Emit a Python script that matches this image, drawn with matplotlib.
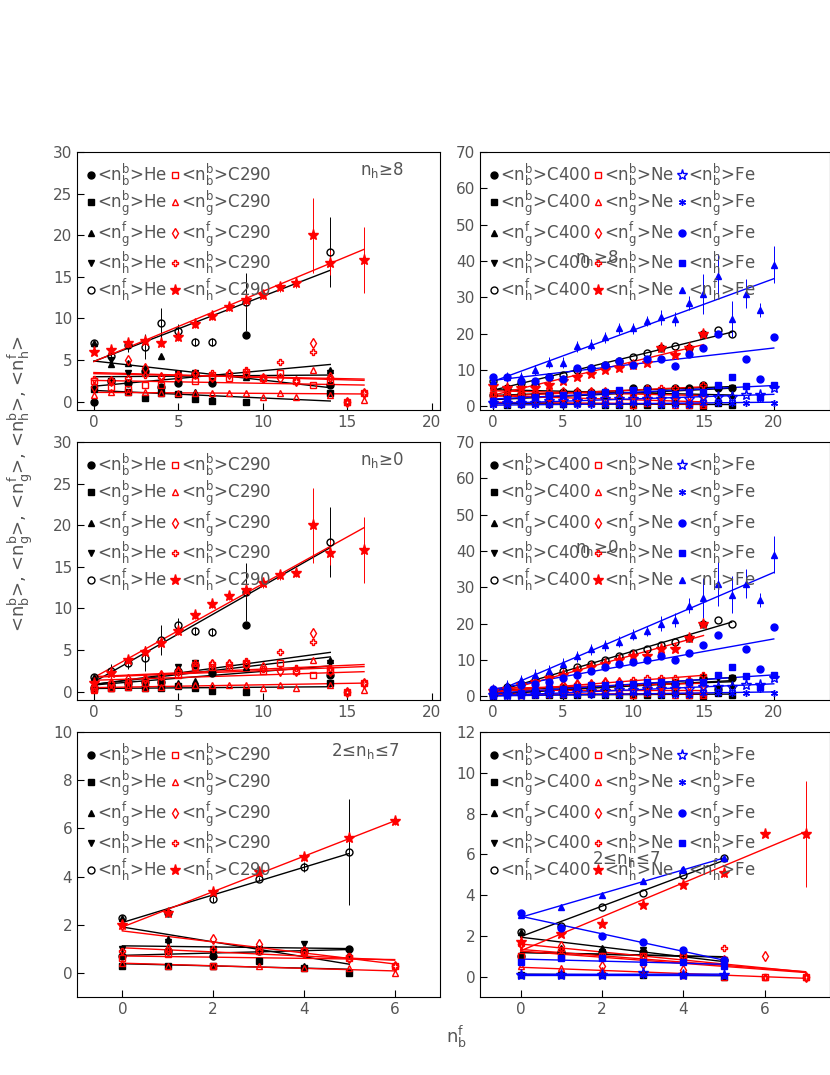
import numpy as np
import matplotlib.pyplot as plt

# ---- data: panels top (nh>=8), middle (nh>=0), bottom (2<=nh<=7) ----
x_he = [0, 1, 2, 3, 4, 5, 6, 7, 9, 14]
x_c290 = [0, 1, 2, 3, 4, 5, 6, 7, 8, 9, 10, 11, 12, 13, 14, 15, 16]

t_he_nbb = [0, 2.5, 2.2, 3.7, 1.8, 2.3, 3.3, 2.3, 8.0, 2.0]
t_he_ngb = [1.5, 2.5, 1.2, 0.4, 1.0, 0.9, 0.3, 0.1, 0, 1.0]
t_he_ngf = [7, 4.5, 4.7, 4.0, 5.5, 3.0, 1.2, 0.5, 3.0, 3.8]
t_he_nhb = [1.5, 5, 3.5, 3.7, 1.2, 3.3, 3.5, 2.5, 3.0, 3.5]
t_he_nhf = [7, 5.5, 6.8, 6.6, 9.5, 8.5, 7.2, 7.2, 12, 18]
t_he_err = [0.3, 0.8, 0.8, 1.5, 1.8, 0.8, 0.5, 0.5, 3.5, 4.2]
t_c_nbb = [2.5, 1.8, 1.5, 2, 2, 3, 2.5, 3, 2.8, 3.3, 2.8, 3.5, 2.5, 2, 2.5, 0, 1]
t_c_ngb = [0.8, 1.2, 1.2, 1.2, 1, 1.0, 1, 1, 1, 1, 0.6, 1, 0.6, 3.8, 0.8, 0, 0.2]
t_c_ngf = [1.8, 2.5, 5, 4, 3, 3, 3.3, 3, 3.3, 3.5, 2.8, 2.8, 2.5, 7, 3, 0, 1]
t_c_nhb = [2.7, 2.6, 2.8, 3.2, 3, 3.3, 3.5, 3.5, 3.5, 3.8, 2.7, 4.8, 2.5, 6, 2.8, 0, 1]
t_c_nhf = [6, 6.2, 7, 7.3, 7.1, 7.8, 9.3, 10.3, 11.4, 12.2, 12.8, 13.8, 14.2, 20, 16.7, np.nan, 17]
t_c_err = [0.3, 0.5, 0.5, 0.5, 0.5, 0.5, 0.5, 0.5, 0.5, 0.8, 0.5, 0.6, 0.5, 4.5, 1.5, 0, 4]

m_he_nbb = [0.5, 0.8, 1.0, 1.2, 1.2, 2.5, 3.2, 2.3, 8.0, 2.0]
m_he_ngb = [0.3, 0.5, 0.6, 0.5, 0.5, 0.7, 0.4, 0.1, 0, 1.0]
m_he_ngf = [1.8, 1.2, 1.3, 1.0, 1.5, 1.0, 1.3, 0.5, 3.0, 3.8]
m_he_nhb = [0.5, 0.8, 1.0, 1.2, 1.8, 3.0, 3.5, 2.5, 3.0, 3.5]
m_he_nhf = [1.8, 2.5, 3.5, 4.0, 6.2, 8.0, 7.3, 7.2, 12, 18]
m_c_nbb = [0.3, 0.5, 0.8, 1, 1.2, 2, 3, 3, 3, 3.3, 2.5, 3.5, 2.5, 2, 2.5, 0, 1]
m_c_ngb = [0.2, 0.4, 0.6, 0.5, 0.6, 0.8, 0.8, 0.8, 0.8, 0.8, 0.5, 0.8, 0.5, 3.8, 0.8, 0, 0.2]
m_c_ngf = [0.5, 1, 1.5, 1.5, 2, 2.5, 3, 3.3, 3.3, 3.3, 3, 2.5, 2.5, 7, 2.5, 0, 1]
m_c_nhb = [0.6, 1, 1.2, 1.5, 2, 2.5, 3.5, 3.5, 3.5, 3.7, 2.7, 4.8, 2.8, 6, 2.8, 0, 1]
m_c_nhf = [1, 2.2, 3.8, 4.8, 5.9, 7.3, 9.2, 10.5, 11.5, 12.2, 13, 14, 14.3, 20, 16.7, np.nan, 17]

x_he_b = [0, 1, 2, 3, 4, 5]
x_c290_b = [0, 1, 2, 3, 4, 5, 6]
b_he_nbb = [0.7, 0.9, 0.7, 0.9, 0.9, 1.0]
b_he_ngb = [0.3, 0.3, 0.3, 0.5, 0.2, 0]
b_he_ngf = [2.3, 1.4, 1.0, 1.0, 0.3, 0.8]
b_he_nhb = [1.0, 1.3, 1.0, 1.0, 1.2, 0.9]
b_he_nhf = [2.3, 2.5, 3.05, 3.9, 4.4, 5.0]
b_he_err = [0.05, 0.1, 0.1, 0.1, 0.2, 2.2]
b_c_nbb = [0.6, 0.8, 0.3, 0.9, 0.9, 0.6, 0.3]
b_c_ngb = [0.4, 0.3, 0.3, 0.3, 0.2, 0.2, 0]
b_c_ngf = [2, 1.0, 1.4, 1.2, 0.9, 0.6, 0.3]
b_c_nhb = [0.9, 0.9, 1.0, 0.9, 0.8, 0.7, 0.3]
b_c_nhf = [2, 2.5, 3.35, 4.2, 4.8, 5.6, 6.3]
b_c_err = [0.1, 0.1, 0.1, 0.1, 0.15, 0.15, 0.15]

# right column: C400, Ne, Fe
x_c400 = list(range(18))
x_ne = list(range(16))
x_fe = list(range(21))
tr_c4_nbb = [3, 3, 3.5, 3, 3.5, 4, 4, 4, 4, 4, 5, 5, 4, 5, 5, 6, 5, 5]
tr_c4_ngb = [1, 0.5, 0.7, 0.8, 0.6, 0.6, 0.8, 1, 0.5, 0.3, 0.5, 0.5, 0.5, 1, 0.5, 0, 1, 0.5]
tr_c4_ngf = [6, 4, 5, 4.5, 4, 4, 3.5, 4, 3, 3, 3.5, 3, 3, 4, 4, 6, 2, 3]
tr_c4_nhb = [2, 2, 2, 2.5, 2.5, 3, 3, 3, 3, 3.5, 4, 4, 4, 4, 4, 5, 5, 5]
tr_c4_nhf = [7, 5, 6.5, 6, 8, 8.5, 10, 10.5, 11.5, 12.5, 13.5, 14.8, 16, 16.7, 16, 20, 21, 20]
tr_ne_nbb = [3, 2.5, 2.5, 2.5, 2.5, 2.5, 2.5, 2.5, 2, 2, 2, 2, 1.5, 1.5, 1, 1]
tr_ne_ngb = [1, 1, 1, 1, 1, 1, 1, 1, 1, 1, 0.5, 1, 1, 0.5, 0.5, 0.5]
tr_ne_ngf = [4, 4, 4, 4, 4, 4, 4, 4, 4, 4, 3, 3, 3, 3, 3, 3]
tr_ne_nhb = [3, 3, 3, 3, 3.5, 3.5, 4, 4, 4, 4, 4.5, 5, 5, 5, 4.5, 6]
tr_ne_nhf = [5.5, 5, 5, 5, 6, 7, 8, 9, 10, 10.5, 11.5, 12, 16, 14, 16, 20]
tr_fe_nbb = [1, 1, 1, 1, 1.5, 1.5, 1.5, 2, 2, 2, 2, 2, 2, 2, 2, 2.5, 2.5, 2.5, 3, 3, 5]
tr_fe_ngb = [0.5, 0.5, 0.5, 0.5, 0.5, 0.5, 0.5, 0.5, 0.5, 0.5, 1, 1, 0.5, 0.5, 0.5, 1, 1, 1, 1, 2, 1]
tr_fe_ngf = [8, 8, 7, 7, 8, 7.5, 10.5, 10.5, 11.5, 12.5, 11.5, 13, 13, 11, 14.5, 16, 20, np.nan, 13, 7.5, 19]
tr_fe_nhb = [1.5, 2, 2, 2.5, 3, 3, 3, 3.5, 4, 4.5, 4.5, 4.5, 4, 3.5, 4, 4, 6, 8, 5.5, 2.5, 6]
tr_fe_nhf = [7, 8, 8, 10, 12, 12, 16.5, 17, 19, 21.5, 21.5, 23.5, 24.5, 24, 28.5, 31, 36, 24, 31, 26.5, 39]
tr_fe_err = [1.5, 1.5, 1.5, 1.5, 1.5, 1.5, 1.5, 1.5, 1.5, 1.5, 1.5, 1.5, 2, 2, 2, 5.5, 6, 5, 4, 2, 5]

mr_c4_nbb = [0.5, 1, 1, 1.5, 1.5, 2, 2, 2.5, 2.5, 3, 3, 3, 3, 3.5, 4, 5, 2, 5]
mr_c4_ngb = [0.2, 0.3, 0.3, 0.4, 0.4, 0.5, 0.5, 0.6, 0.5, 0.3, 0.5, 0.5, 0.5, 1, 0.5, 0, 1, 0.5]
mr_c4_ngf = [1.5, 1.5, 2, 2, 2, 2.5, 2.5, 3, 3, 3, 3.5, 3, 3, 4, 4, 6, 2, 3]
mr_c4_nhb = [0.5, 0.8, 1, 1.2, 1.5, 2, 2, 2.5, 2.5, 3, 3.5, 3.5, 4, 4, 4, 5, 5, 5]
mr_c4_nhf = [1.5, 2.5, 3.5, 4.5, 5.5, 7, 8, 9, 10, 11, 12, 13, 14, 15, 16, 20, 21, 20]
mr_ne_nbb = [1, 1.2, 1.5, 1.5, 2, 2, 2, 2, 2, 2, 2, 2, 1.5, 1.5, 1, 1]
mr_ne_ngb = [0.3, 0.4, 0.5, 0.6, 0.6, 0.7, 0.8, 0.8, 1, 1, 0.5, 1, 1, 0.5, 0.5, 0.5]
mr_ne_ngf = [1, 1.5, 2, 2.5, 3, 3, 3.5, 3.5, 4, 4, 3, 3, 3, 3, 3, 3]
mr_ne_nhb = [1, 1.3, 1.8, 2.2, 2.5, 3, 3.5, 3.5, 4, 4, 4.5, 5, 5, 5, 4.5, 6]
mr_ne_nhf = [1.5, 2, 3, 4, 5, 6, 7, 8, 9, 10, 11, 11, 13, 13, 16, 20]
mr_fe_nbb = [0.3, 0.4, 0.5, 0.6, 0.8, 1, 1.2, 1.4, 1.5, 1.7, 1.8, 2, 2, 2, 2, 2.5, 2.5, 2.5, 3, 3, 5]
mr_fe_ngb = [0.2, 0.2, 0.3, 0.3, 0.3, 0.4, 0.4, 0.5, 0.5, 0.5, 1, 1, 0.5, 0.5, 0.5, 1, 1, 1, 1, 2, 1]
mr_fe_ngf = [2, 2, 3, 3.5, 4, 5, 6, 7, 8, 9, 9.5, 10, 11, 10, 12, 14, 17, np.nan, 13, 7.5, 19]
mr_fe_nhb = [0.5, 0.8, 1, 1.5, 2, 2, 2.5, 3, 3, 3.5, 3.5, 4, 4, 3.5, 4, 4, 6, 8, 5.5, 2.5, 6]
mr_fe_nhf = [2, 3, 4.5, 6, 7, 9, 11, 13, 14, 15, 17, 18, 20, 21, 25, 27, 31, 28, 31, 26.5, 39]

x_c400_b = [0, 1, 2, 3, 4, 5]
x_ne_b = [0, 1, 2, 3, 4, 5, 6, 7]
x_fe_b = [0, 1, 2, 3, 4, 5]
br_c4_nbb = [1, 1.2, 1.2, 1.2, 1.0, 0.8]
br_c4_ngb = [0.1, 0.1, 0.1, 0.1, 0.1, 0]
br_c4_ngf = [2.2, 1.4, 1.4, 1.2, 1.0, 0.8]
br_c4_nhb = [1, 1.2, 1.2, 1.3, 1.0, 0.8]
br_c4_nhf = [2.2, 2.5, 3.4, 4.1, 5.0, 5.8]
br_ne_nbb = [1.0, 1.0, 1.0, 1.0, 1.0, 0.8, 0, 0]
br_ne_ngb = [0.5, 0.4, 0.3, 0.2, 0.1, 0, 0, 0]
br_ne_ngf = [1.6, 1.5, 0.5, 0.6, 0.3, 0.8, 1.0, 0]
br_ne_nhb = [1.6, 1.3, 1.0, 1.0, 1.0, 1.4, 0, 0]
br_ne_nhf = [1.7, 2.1, 2.6, 3.5, 4.5, 5.1, 7, 7]
br_ne_err = [0.1, 0.1, 0.1, 0.1, 0.1, 0.2, 0.1, 2.6]
br_fe_nbb = [0.1, 0.1, 0.1, 0.2, 0.1, 0.1]
br_fe_ngb = [0.1, 0.1, 0.1, 0.1, 0.1, 0.1]
br_fe_ngf = [3.1, 2.4, 2.0, 1.7, 1.3, 0.8]
br_fe_nhb = [0.7, 0.9, 0.9, 0.7, 0.7, 0.5]
br_fe_nhf = [3.0, 3.4, 4.0, 4.7, 5.3, 5.8]

qty = ['<n$_{\\rm b}^{\\rm b}$>', '<n$_{\\rm g}^{\\rm b}$>', '<n$_{\\rm g}^{\\rm f}$>',
       '<n$_{\\rm h}^{\\rm b}$>', '<n$_{\\rm h}^{\\rm f}$>']
GRAY = '#555555'

# marker styles per group: (marker, filled)
sty_black = [('o', True), ('s', True), ('^', True), ('v', True), ('o', False)]
sty_red = [('s', False), ('^', False), ('d', False), ('P', False), ('*', True)]
sty_blue = [('*', False), ((6, 2, 0), True), ('o', True), ('s', True), ('^', True)]


def draw_group(ax, x, series, color, styles, name, errs=None):
    x = np.array(x, float)
    for i, (y, (mk, filled)) in enumerate(zip(series, styles)):
        y = np.array(y, float)
        ok = ~np.isnan(y)
        if errs is not None and i == 4:
            ax.errorbar(x[ok], y[ok], yerr=np.array(errs, float)[ok], fmt='none',
                        ecolor=color, elinewidth=0.7, zorder=2)
        ms = 8 if mk == '*' else 5
        ax.plot(x[ok], y[ok], linestyle='none', marker=mk, ms=ms, mew=1,
                mec=color, mfc=color if filled else 'none', zorder=3,
                label=qty[i] + name)
        p = np.polyfit(x[ok], y[ok], 1)
        xs = np.array([x[ok].min(), x[ok].max()])
        ax.plot(xs, np.polyval(p, xs), color=color, lw=1, zorder=2)


plt.rcParams['mathtext.fontset'] = 'dejavusans'
fig = plt.figure(figsize=(8.3, 10.75), dpi=100)
W, H = 830, 1075
def mkax(l, t, r, b):
    return fig.add_axes([l / W, 1 - b / H, (r - l) / W, (b - t) / H])

axes = [mkax(77, 152, 440, 410), mkax(480, 152, 830, 410),
        mkax(77, 442, 440, 700), mkax(480, 442, 830, 700),
        mkax(77, 732, 440, 997), mkax(480, 732, 830, 997)]

draw_group(axes[0], x_he, [t_he_nbb, t_he_ngb, t_he_ngf, t_he_nhb, t_he_nhf], 'black', sty_black, 'He', t_he_err)
draw_group(axes[0], x_c290, [t_c_nbb, t_c_ngb, t_c_ngf, t_c_nhb, t_c_nhf], 'red', sty_red, 'C290', t_c_err)
draw_group(axes[2], x_he, [m_he_nbb, m_he_ngb, m_he_ngf, m_he_nhb, m_he_nhf], 'black', sty_black, 'He', t_he_err)
draw_group(axes[2], x_c290, [m_c_nbb, m_c_ngb, m_c_ngf, m_c_nhb, m_c_nhf], 'red', sty_red, 'C290', t_c_err)
draw_group(axes[4], x_he_b, [b_he_nbb, b_he_ngb, b_he_ngf, b_he_nhb, b_he_nhf], 'black', sty_black, 'He', b_he_err)
draw_group(axes[4], x_c290_b, [b_c_nbb, b_c_ngb, b_c_ngf, b_c_nhb, b_c_nhf], 'red', sty_red, 'C290', b_c_err)

draw_group(axes[1], x_c400, [tr_c4_nbb, tr_c4_ngb, tr_c4_ngf, tr_c4_nhb, tr_c4_nhf], 'black', sty_black, 'C400')
draw_group(axes[1], x_ne, [tr_ne_nbb, tr_ne_ngb, tr_ne_ngf, tr_ne_nhb, tr_ne_nhf], 'red', sty_red, 'Ne')
draw_group(axes[1], x_fe, [tr_fe_nbb, tr_fe_ngb, tr_fe_ngf, tr_fe_nhb, tr_fe_nhf], 'blue', sty_blue, 'Fe', tr_fe_err)
draw_group(axes[3], x_c400, [mr_c4_nbb, mr_c4_ngb, mr_c4_ngf, mr_c4_nhb, mr_c4_nhf], 'black', sty_black, 'C400')
draw_group(axes[3], x_ne, [mr_ne_nbb, mr_ne_ngb, mr_ne_ngf, mr_ne_nhb, mr_ne_nhf], 'red', sty_red, 'Ne')
draw_group(axes[3], x_fe, [mr_fe_nbb, mr_fe_ngb, mr_fe_ngf, mr_fe_nhb, mr_fe_nhf], 'blue', sty_blue, 'Fe', tr_fe_err)
draw_group(axes[5], x_c400_b, [br_c4_nbb, br_c4_ngb, br_c4_ngf, br_c4_nhb, br_c4_nhf], 'black', sty_black, 'C400')
draw_group(axes[5], x_ne_b, [br_ne_nbb, br_ne_ngb, br_ne_ngf, br_ne_nhb, br_ne_nhf], 'red', sty_red, 'Ne', br_ne_err)
draw_group(axes[5], x_fe_b, [br_fe_nbb, br_fe_ngb, br_fe_ngf, br_fe_nhb, br_fe_nhf], 'blue', sty_blue, 'Fe')

lims = [((-1, 20.5), (-1, 30), [0, 5, 10, 15, 20], [0, 5, 10, 15, 20, 25, 30]),
        ((-0.9, 24), (-1, 70), [0, 5, 10, 15, 20], list(range(0, 71, 10))),
        ((-1, 20.5), (-1, 30), [0, 5, 10, 15, 20], [0, 5, 10, 15, 20, 25, 30]),
        ((-0.9, 24), (-1, 70), [0, 5, 10, 15, 20], list(range(0, 71, 10))),
        ((-1, 7), (-1, 10), [0, 2, 4, 6], [0, 2, 4, 6, 8, 10]),
        ((-1, 7.6), (-1, 12), [0, 2, 4, 6], [0, 2, 4, 6, 8, 10, 12])]
tags = ['n$_{\\rm h}$≥8', 'n$_{\\rm h}$≥8', 'n$_{\\rm h}$≥0', 'n$_{\\rm h}$≥0',
        '2≤n$_{\\rm h}$≤7', '2≤n$_{\\rm h}$≤7']
tagpos = [(0.78, 0.91), (0.27, 0.57), (0.78, 0.91), (0.27, 0.57), (0.70, 0.91), (0.32, 0.50)]
for k, (ax, (xl, yl, xt, yt), tag, tp) in enumerate(zip(axes, lims, tags, tagpos)):
    ax.set_xlim(*xl)
    ax.set_ylim(*yl)
    ax.set_xticks(xt)
    ax.set_yticks(yt)
    ax.tick_params(direction='in', length=5, labelcolor=GRAY, labelsize=11)
    ax.text(tp[0], tp[1], tag, transform=ax.transAxes, color=GRAY, fontsize=12)
    ncol = 2 if k % 2 == 0 else 3
    leg = ax.legend(loc='upper left', ncol=ncol, frameon=False, fontsize=12,
                    handlelength=0.5, handletextpad=0.1, columnspacing=0.2,
                    labelspacing=0.05, borderaxespad=0.2, numpoints=1)
    for t in leg.get_texts():
        t.set_color(GRAY)

fig.text(0.025, 0.55,
         '<n$_{\\rm b}^{\\rm b}$>, <n$_{\\rm g}^{\\rm b}$>, <n$_{\\rm g}^{\\rm f}$>, <n$_{\\rm h}^{\\rm b}$>, <n$_{\\rm h}^{\\rm f}$>',
         rotation=90, ha='center', va='center', fontsize=13, color=GRAY)
fig.text(0.55, 0.03, 'n$_{\\rm b}^{\\rm f}$', ha='center', fontsize=13, color=GRAY)

fig.savefig('out.png', dpi=100)
